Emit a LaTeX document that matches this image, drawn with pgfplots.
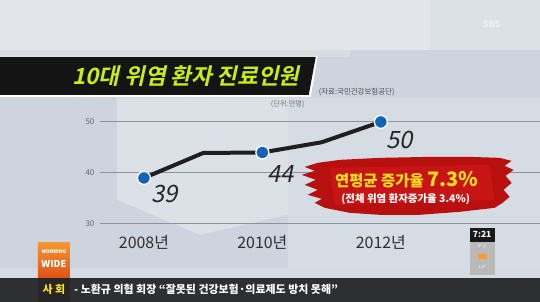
\documentclass[border=0pt]{standalone}
\usepackage{pgfplots}
\pgfplotsset{compat=1.18}
\usepackage{fontspec}
\setmainfont{Noto Sans CJK KR}[AutoFakeSlant=0.2]
\newfontfamily\titlefont{Noto Sans CJK KR Bold}[FakeSlant=0.22]
\definecolor{bgmain}{HTML}{CDD4DE}
\definecolor{bgtop}{HTML}{E2E6EC}
\definecolor{bgpanel}{HTML}{DCE1E8}
\definecolor{lime}{HTML}{C8EE14}
\definecolor{dotblue}{HTML}{1463B8}
\definecolor{brushred}{HTML}{B80F0F}
\definecolor{brushlight}{HTML}{D21818}
\definecolor{gold}{HTML}{FFE01A}
\definecolor{gridgray}{HTML}{8C939C}
\definecolor{ticker}{HTML}{2E2F31}
\begin{document}
\begin{tikzpicture}[x=1bp,y=1bp]
% background, drawn in screen coordinates (y grows downwards)
\begin{scope}[shift={(0,302)}, yscale=-1]
  \fill[bgmain] (0,0) rectangle (540,302);
  \fill[bgtop] (0,0) rectangle (540,50);
  \fill[bgtop!70!bgmain] (430,0) rectangle (540,50);
  \fill[bgpanel] (117,98) -- (288,98) -- (288,215) -- (200,235) -- (117,200) -- cycle;
  \fill[bgpanel!60!bgmain] (288,98) -- (540,98) -- (540,270) -- (288,270) -- cycle;
  \fill[black!4!bgtop] (0,50) rectangle (350,57);
  % title banner
  \fill[white] (0,56) -- (318,56) -- (311,97) -- (0,97) -- cycle;
  \fill[black!92] (0,57) -- (316,57) -- (309,95) -- (0,95) -- cycle;
  % bottom ticker
  \fill[bgmain!85!white] (0,268) rectangle (540,278);
  \fill[ticker] (0,278) rectangle (540,302);
  \fill[black!85] (38,278) rectangle (70,302);
  % morning logo
  \shade[top color={rgb,255:red,245;green,150;blue,50}, bottom color={rgb,255:red,225;green,80;blue,20}] (38,243) rectangle (70,278);
  % clock box
  \fill[black!90] (470,228) rectangle (495,242);
  \fill[gray!55] (470,242) rectangle (495,275);
  \fill[orange!80] (478,254) rectangle (487,259);
\end{scope}
\node[text=white, opacity=0.5, font=\fontsize{9}{9}\selectfont\bfseries] at (492,278) {SBS};
\node[text=lime, font=\fontsize{22.5}{23}\titlefont] at (186,226) {10대 위염 환자 진료인원};
\node[text=black!70, font=\fontsize{7.5}{7.5}\selectfont] at (357,210) {(자료:국민건강보험공단)};
\node[text=black!55, font=\fontsize{7.3}{7.3}\selectfont] at (288,198) {(단위:만명)};
\node[text=white, font=\fontsize{5}{5}\selectfont\bfseries, inner sep=0] at (54,50) {MORNING};
\node[text=white, font=\fontsize{9.5}{9.5}\selectfont\bfseries, inner sep=0] at (54,38) {WIDE};
\node[text=white, font=\fontsize{8.5}{8.5}\selectfont\bfseries, inner sep=0] at (482.5,67) {7:21};
\node[text=white, font=\fontsize{4}{4}\selectfont, inner sep=0] at (482.5,56) {부 산};
\node[text=white, font=\fontsize{4}{4}\selectfont, inner sep=0] at (482.5,35) {2.0°};
\node[text=gold, font=\fontsize{11}{11}\selectfont\bfseries, inner sep=0] at (54,12) {사 회};
\node[text=white, font=\fontsize{11}{11}\selectfont\bfseries, anchor=west, inner sep=0] at (74,12) {- 노환규 의협 회장 “잘못된 건강보험·의료제도 방치 못해”};

\begin{axis}[
  at={(100bp,78bp)}, anchor=south west,
  scale only axis, width=440bp, height=102bp,
  xmin=2007.257, xmax=2014.68, ymin=30, ymax=50,
  clip=false,
  axis line style={draw=none},
  major tick length=0pt,
  xtick={2008,2010,2012},
  xticklabels={2008년,2010년,2012년},
  ytick={30,40,50},
  ymajorgrids,
  grid style={gridgray, line width=0.9bp},
  /pgf/number format/assume math mode=true,
  yticklabel style={text=black!60, font=\fontsize{8}{8}\selectfont, xshift=-2bp},
  xticklabel style={text=black!82, font=\fontsize{16}{16}\selectfont, yshift=-8bp},
]
\addplot[black!88, line width=4bp, line join=round, line cap=round]
  coordinates {(2008,39) (2009,43.9) (2010,44) (2011,46) (2012,50)};
\addplot[only marks, mark=*, mark size=6.5bp,
  mark options={fill=dotblue, draw=white, line width=1.3bp}]
  coordinates {(2008,39) (2010,44) (2012,50)};
\node[text=black!85, font=\fontsize{24}{24}\selectfont\itshape] at (axis cs:2008,39) [xshift=21bp, yshift=-16bp] {39};
\node[text=black!85, font=\fontsize{24}{24}\selectfont\itshape] at (axis cs:2010,44) [xshift=18bp, yshift=-22bp] {44};
\node[text=black!85, font=\fontsize{24}{24}\selectfont\itshape] at (axis cs:2012,50) [xshift=19bp, yshift=-18bp] {50};
\end{axis}

% red brush note
\begin{scope}[shift={(0,302)}, yscale=-1]
  \fill[brushred] (318,163) -- (340,160) -- (380,158) -- (430,157) -- (470,157) -- (500,158) -- (512,161) -- (505,166) -- (514,170) -- (506,176) -- (512,183) -- (504,190) -- (510,197) -- (503,203) -- (495,208) -- (460,212) -- (420,215) -- (380,215) -- (350,213) -- (325,208) -- (315,203) -- (322,199) -- (308,195) -- (318,190) -- (305,185) -- (316,180) -- (302,175) -- (315,171) -- (305,167) -- cycle;
  \fill[brushlight, opacity=0.6] (330,168) -- (490,165) -- (495,200) -- (335,205) -- cycle;
\end{scope}
\node[text=gold, font=\bfseries, inner sep=0] at (407,122) {\fontsize{15.5}{16}\selectfont 연평균 증가율 \fontsize{20}{20}\selectfont 7.3\%};
\node[text=white, font=\fontsize{10.5}{11}\selectfont\bfseries, inner sep=0] at (406,103) {(전체 위염 환자증가율 3.4\%)};
\end{tikzpicture}
\end{document}
